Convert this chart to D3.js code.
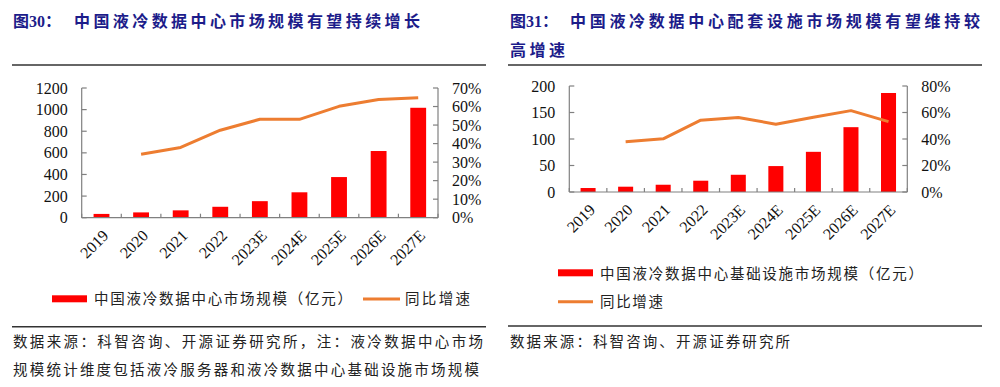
<!DOCTYPE html>
<html lang="zh">
<head>
<meta charset="utf-8">
<title>液冷数据中心市场规模</title>
<script src="https://d3js.org/d3.v7.min.js"></script>
<style>
  body { margin: 0; background: #fff; }
  svg { display: block; }
  .title { font-family: "Liberation Serif", "Noto Sans CJK SC", serif; font-weight: bold; font-size: 16px; fill: #1c1c8a; }
  .cjk { font-family: "Noto Sans CJK SC", sans-serif; font-size: 14.5px; fill: #222; }
  .tick-label { font-family: "Liberation Serif", "Times New Roman", serif; font-size: 16px; fill: #111; }
  .axis-line { stroke: #808080; stroke-width: 1.2; fill: none; }
  .rule { stroke: #333; stroke-width: 1.4; }
</style>
</head>
<body>
<script>
// categories shared by both charts
var years = ["2019", "2020", "2021", "2022", "2023E", "2024E", "2025E", "2026E", "2027E"];

// 图30: 中国液冷数据中心市场规模（亿元）与同比增速
var marketSize = [35, 49, 68, 101, 153, 235, 376, 617, 1017];
var marketGrowth = [null, 0.342, 0.379, 0.472, 0.531, 0.531, 0.601, 0.638, 0.647];
var leftTicks = [0, 200, 400, 600, 800, 1000, 1200];
var leftRateTicks = [0, 0.1, 0.2, 0.3, 0.4, 0.5, 0.6, 0.7];

// 图31: 中国液冷数据中心基础设施市场规模（亿元）与同比增速
var infraSize = [7.5, 10, 13.7, 21.3, 32.5, 48.9, 75.8, 122.3, 186.8];
var infraGrowth = [null, 0.379, 0.401, 0.542, 0.562, 0.512, 0.564, 0.614, 0.531];
var rightTicks = [0, 50, 100, 150, 200];
var rightRateTicks = [0, 0.2, 0.4, 0.6, 0.8];

var barColor = "#ff0000";
var lineColor = "#ed7d31";

var svg = d3.select("body").append("svg")
    .attr("width", 1000)
    .attr("height", 387);

function fitText(sel, width) {
    sel.attr("textLength", width).attr("lengthAdjust", "spacing");
}

function drawChart(opt) {
    var g = svg.append("g");

    var x = d3.scaleBand().domain(years)
        .range([opt.left, opt.right])
        .paddingInner(0.6).paddingOuter(0.3);
    var step = (opt.right - opt.left) / years.length;
    var y = d3.scaleLinear().domain([0, opt.ticks[opt.ticks.length - 1]]).range([opt.bottom, opt.top]);
    var y2 = d3.scaleLinear().domain([0, opt.rateTicks[opt.rateTicks.length - 1]]).range([opt.bottom, opt.top]);

    // bars
    g.selectAll("rect.bar")
        .data(opt.values)
        .enter().append("rect")
        .attr("class", "bar")
        .attr("x", (d, i) => x(years[i]))
        .attr("width", x.bandwidth())
        .attr("y", d => y(d))
        .attr("height", d => opt.bottom - y(d))
        .attr("fill", barColor);

    // axes
    g.append("line").attr("class", "axis-line")
        .attr("x1", opt.left).attr("x2", opt.left).attr("y1", opt.top).attr("y2", opt.bottom);
    g.append("line").attr("class", "axis-line")
        .attr("x1", opt.right).attr("x2", opt.right).attr("y1", opt.top).attr("y2", opt.bottom);
    g.append("line").attr("class", "axis-line")
        .attr("x1", opt.left).attr("x2", opt.right).attr("y1", opt.bottom).attr("y2", opt.bottom);

    // left ticks
    opt.ticks.forEach(function (t) {
        g.append("line").attr("class", "axis-line")
            .attr("x1", opt.left).attr("x2", opt.left + 5)
            .attr("y1", y(t)).attr("y2", y(t));
        g.append("text").attr("class", "tick-label")
            .attr("x", opt.left - 14).attr("y", y(t)).attr("dy", "0.35em")
            .attr("text-anchor", "end")
            .text(t);
    });
    // right ticks
    opt.rateTicks.forEach(function (t) {
        g.append("line").attr("class", "axis-line")
            .attr("x1", opt.right - 5).attr("x2", opt.right)
            .attr("y1", y2(t)).attr("y2", y2(t));
        g.append("text").attr("class", "tick-label")
            .attr("x", opt.right + 14).attr("y", y2(t)).attr("dy", "0.35em")
            .text(d3.format(".0%")(t));
    });
    // x ticks at band boundaries
    d3.range(years.length + 1).forEach(function (i) {
        var xx = opt.left + i * step;
        g.append("line").attr("class", "axis-line")
            .attr("x1", xx).attr("x2", xx)
            .attr("y1", opt.bottom).attr("y2", opt.bottom - 4);
    });
    years.forEach(function (yr) {
        var cx = x(yr) + x.bandwidth() / 2;
        g.append("text").attr("class", "tick-label")
            .attr("transform", `translate(${cx + 4},${opt.bottom + 15}) rotate(-45)`)
            .attr("text-anchor", "end")
            .attr("dy", "0.35em")
            .text(yr);
    });

    // growth line
    var line = d3.line()
        .defined(d => d != null)
        .x((d, i) => x(years[i]) + x.bandwidth() / 2)
        .y(d => y2(d));
    g.append("path")
        .datum(opt.rates)
        .attr("d", line)
        .attr("fill", "none")
        .attr("stroke", lineColor)
        .attr("stroke-width", 3)
        .attr("stroke-linejoin", "round");
}

drawChart({
    left: 81.7, right: 438, top: 88, bottom: 217.7,
    values: marketSize, rates: marketGrowth,
    ticks: leftTicks, rateTicks: leftRateTicks
});

drawChart({
    left: 569.3, right: 907.3, top: 86, bottom: 192,
    values: infraSize, rates: infraGrowth,
    ticks: rightTicks, rateTicks: rightRateTicks
});

// titles: label prefix kept tight, the rest spread to the measured width
svg.append("text").attr("class", "title").attr("x", 13).attr("y", 26.5).text("图30：");
svg.append("text").attr("class", "title").attr("x", 74).attr("y", 26.5)
    .text("中国液冷数据中心市场规模有望持续增长").call(fitText, 346);
svg.append("text").attr("class", "title").attr("x", 510).attr("y", 27).text("图31：");
svg.append("text").attr("class", "title").attr("x", 570).attr("y", 27)
    .text("中国液冷数据中心配套设施市场规模有望维持较").call(fitText, 410);
svg.append("text").attr("class", "title").attr("x", 510).attr("y", 55.5)
    .text("高增速").call(fitText, 55);

// rules
[[12, 486, 65], [12, 486, 326.7], [508, 982, 65], [508, 982, 326]].forEach(function (r) {
    svg.append("line").attr("class", "rule")
        .attr("x1", r[0]).attr("x2", r[1]).attr("y1", r[2]).attr("y2", r[2]);
});

// legends
svg.append("rect").attr("x", 52).attr("y", 295.3).attr("width", 35).attr("height", 7).attr("fill", barColor);
svg.append("text").attr("class", "cjk").attr("x", 94).attr("y", 304)
    .text("中国液冷数据中心市场规模（亿元）").call(fitText, 258);
svg.append("line").attr("x1", 363).attr("x2", 400).attr("y1", 299).attr("y2", 299)
    .attr("stroke", lineColor).attr("stroke-width", 3);
svg.append("text").attr("class", "cjk").attr("x", 405).attr("y", 304)
    .text("同比增速").call(fitText, 65);

svg.append("rect").attr("x", 558).attr("y", 269.3).attr("width", 35).attr("height", 7).attr("fill", barColor);
svg.append("text").attr("class", "cjk").attr("x", 600).attr("y", 278.5)
    .text("中国液冷数据中心基础设施市场规模（亿元）").call(fitText, 323);
svg.append("line").attr("x1", 558).attr("x2", 593).attr("y1", 301.7).attr("y2", 301.7)
    .attr("stroke", lineColor).attr("stroke-width", 3);
svg.append("text").attr("class", "cjk").attr("x", 600).attr("y", 307)
    .text("同比增速").call(fitText, 63);

// sources
svg.append("text").attr("class", "cjk").attr("x", 13).attr("y", 346.5)
    .text("数据来源：科智咨询、开源证券研究所，注：液冷数据中心市场").call(fitText, 470);
svg.append("text").attr("class", "cjk").attr("x", 13).attr("y", 375)
    .text("规模统计维度包括液冷服务器和液冷数据中心基础设施市场规模").call(fitText, 466);
svg.append("text").attr("class", "cjk").attr("x", 510).attr("y", 346.5)
    .text("数据来源：科智咨询、开源证券研究所").call(fitText, 280);
</script>
</body>
</html>
